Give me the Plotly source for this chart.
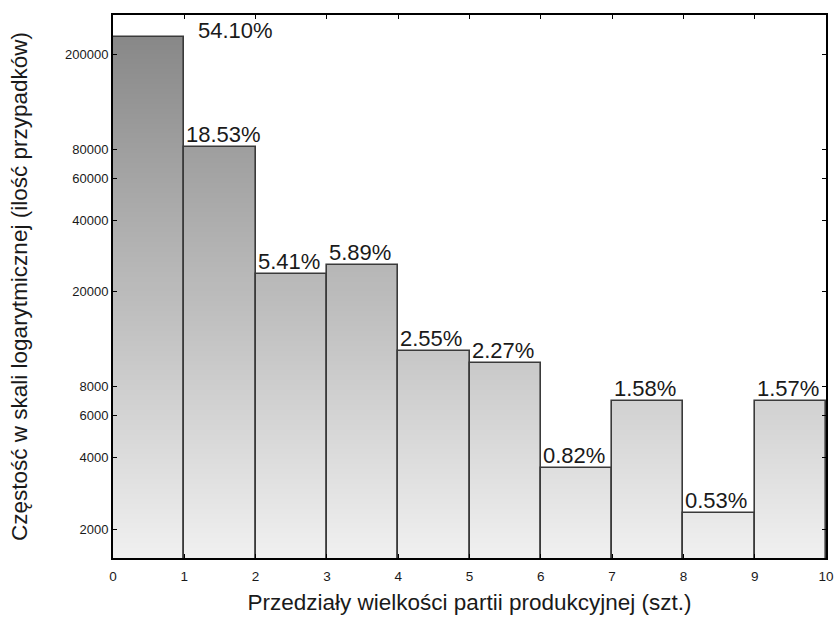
import numpy as np
import plotly.graph_objects as go

# Histogram of production batch sizes, log-scaled frequency
bin_edges = [0, 1, 2, 3, 4, 5, 6, 7, 8, 9, 10]
percent = [54.10, 18.53, 5.41, 5.89, 2.55, 2.27, 0.82, 1.58, 0.53, 1.57]
total_cases = 440000
y_tickvals = [2000, 4000, 6000, 8000, 20000, 40000, 60000, 80000, 200000]
y_ticktext = ["2000", "4000", "6000", "8000", "20000", "40000", "60000", "80000", "200000"]
x_tickvals = [0, 1, 2, 3, 4, 5, 6, 7, 8, 9, 10]

counts = np.array(percent) / 100.0 * total_cases
centers = [(a + b) / 2 for a, b in zip(bin_edges[:-1], bin_edges[1:])]
widths = [b - a for a, b in zip(bin_edges[:-1], bin_edges[1:])]

y_lo, y_hi = 1510, 294000
log_lo, log_hi = np.log10(y_lo), np.log10(y_hi)

FONT = "Liberation Sans, Arial, sans-serif"

fig = go.Figure()

# vertical grey gradient: layered bars clipped at successive levels
n_levels = 110
levels = np.logspace(log_lo, log_hi, n_levels + 1)[1:]


def grey_at(frac):
    # frac = 0 at bottom of the axis, 1 at the top
    g = int(round(240 - frac * 108))
    return f"rgb({g},{g},{g})"


for j in range(n_levels - 1, -1, -1):
    lvl = levels[j]
    mid = (np.log10(lvl) - (log_hi - log_lo) / n_levels / 2 - log_lo) / (log_hi - log_lo)
    fig.add_trace(go.Bar(
        x=centers, y=np.minimum(counts, lvl), width=widths,
        marker=dict(color=grey_at(mid), line=dict(width=0)),
        hoverinfo="skip", showlegend=False,
    ))

# bar outlines
fig.add_trace(go.Bar(
    x=centers, y=counts, width=widths,
    marker=dict(color="rgba(0,0,0,0)", line=dict(color="#3a3a3a", width=1.6)),
    showlegend=False,
))

# percentage labels (the tallest one sits beside its bar, below the frame)
for i, (x0, c, p) in enumerate(zip(bin_edges[:-1], counts, percent)):
    if i == 0:
        ax_x, xshift, yshift = bin_edges[1], 12, -8
    else:
        ax_x, xshift, yshift = x0, 0, -2
    fig.add_annotation(
        x=ax_x, y=np.log10(c), text=f"{p:.2f}%", showarrow=False,
        xanchor="left", yanchor="bottom", xshift=xshift, yshift=yshift,
        font=dict(family=FONT, size=22, color="#1a1a1a"),
    )

fig.update_layout(
    width=837, height=618,
    margin=dict(l=113, r=11, t=15, b=60),
    paper_bgcolor="white", plot_bgcolor="white",
    barmode="overlay", bargap=0,
    font=dict(family=FONT, size=13, color="#1a1a1a"),
)

fig.update_xaxes(
    range=[0, 10], tickvals=x_tickvals, ticks="inside", ticklen=4, tickcolor="black",
    showline=True, linecolor="black", linewidth=2, mirror="ticks", showgrid=False,
    zeroline=False, tickfont=dict(size=13.5), automargin=False, ticklabelstandoff=5,
    title=dict(text="Przedziały wielkości partii produkcyjnej (szt.)",
               font=dict(size=22.5), standoff=11),
)
fig.update_yaxes(
    type="log", range=[log_lo, log_hi], tickvals=y_tickvals, ticktext=y_ticktext,
    ticks="inside", ticklen=4, tickcolor="black",
    showline=True, linecolor="black", linewidth=2, mirror="ticks", showgrid=False,
    zeroline=False, tickfont=dict(size=13), automargin=False,
    title=dict(text="Częstość w skali logarytmicznej (ilość przypadków)",
               font=dict(size=22.5), standoff=31),
)

fig.write_html("out.html")
